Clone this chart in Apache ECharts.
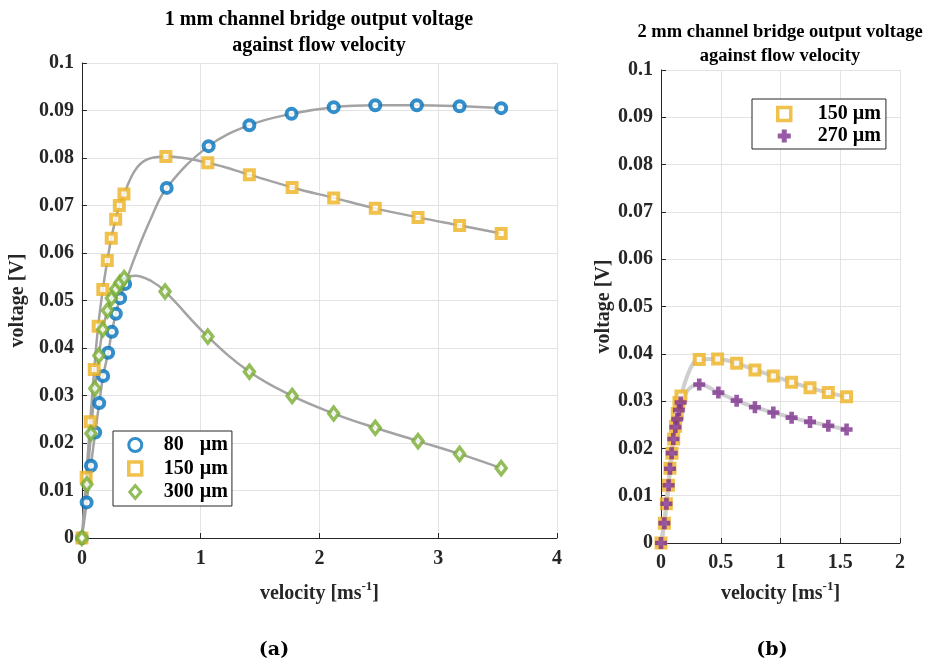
<!DOCTYPE html>
<html>
<head>
<meta charset="utf-8">
<script src="https://cdn.jsdelivr.net/npm/echarts@6/dist/echarts.min.js"></script>
<style>
html,body{margin:0;padding:0;background:#fff;}
#chart{width:946px;height:665px;}
</style>
</head>
<body>
<div id="chart"></div>
<script>
// ---------- data ----------
// Plot (a): 1 mm channel
const a80X  = [0, 0.040, 0.076, 0.112, 0.146, 0.179, 0.221, 0.252, 0.286, 0.322, 0.364, 0.714, 1.067, 1.41, 1.765, 2.12, 2.47, 2.82, 3.18, 3.53];
const a80Y  = [0, 0.0075, 0.0152, 0.0222, 0.0284, 0.0341, 0.0390, 0.0434, 0.0472, 0.0505, 0.0535, 0.0737, 0.0825, 0.0869, 0.0893, 0.0907, 0.0911, 0.0911, 0.0909, 0.0905];
const a150X = [0, 0.036, 0.070, 0.104, 0.137, 0.176, 0.214, 0.247, 0.284, 0.315, 0.354, 0.707, 1.06, 1.41, 1.77, 2.12, 2.47, 2.83, 3.18, 3.53];
const a150Y = [0, 0.0128, 0.0245, 0.0355, 0.0446, 0.0523, 0.0584, 0.0631, 0.0671, 0.0700, 0.0724, 0.0803, 0.0790, 0.0765, 0.0738, 0.0716, 0.0694, 0.0675, 0.0658, 0.0641];
const a300X = [0, 0.042, 0.076, 0.109, 0.143, 0.176, 0.215, 0.249, 0.286, 0.319, 0.356, 0.700, 1.06, 1.41, 1.77, 2.12, 2.47, 2.83, 3.18, 3.53];
const a300Y = [0, 0.0113, 0.0220, 0.0315, 0.0384, 0.0439, 0.0479, 0.0505, 0.0524, 0.0537, 0.0547, 0.0519, 0.0424, 0.0350, 0.0299, 0.0262, 0.0232, 0.0204, 0.0177, 0.0147];
// extra points (a)
const fit80ExX  = [0.45, 0.58];
const fit80ExY  = [0.0594, 0.0672];
const fit150ExX = [0.45, 0.55];
const fit150ExY = [0.0775, 0.0797];
const fit300ExX = [0.45, 0.59];
const fit300ExY = [0.0552, 0.0540];

// Plot (b): 2 mm channel
const b150X = [0, 0.028, 0.045, 0.062, 0.075, 0.092, 0.106, 0.122, 0.136, 0.150, 0.167, 0.32, 0.474, 0.633, 0.786, 0.94, 1.093, 1.247, 1.40, 1.553];
const b150Y = [0, 0.0042, 0.0083, 0.0122, 0.0158, 0.0190, 0.0220, 0.0247, 0.0274, 0.0297, 0.0311, 0.0388, 0.0389, 0.0380, 0.0366, 0.0353, 0.0340, 0.0328, 0.0318, 0.0309];
const b270X = [0, 0.028, 0.045, 0.064, 0.075, 0.089, 0.103, 0.120, 0.136, 0.150, 0.165, 0.32, 0.48, 0.633, 0.786, 0.94, 1.093, 1.247, 1.40, 1.553];
const b270Y = [0, 0.0042, 0.0083, 0.0122, 0.0157, 0.0190, 0.0220, 0.0245, 0.0262, 0.0281, 0.0297, 0.0335, 0.0318, 0.0301, 0.0287, 0.0276, 0.0265, 0.0256, 0.0248, 0.0240];
const fitB150ExX = [0.215, 0.27];
const fitB150ExY = [0.0350, 0.0380];
const fitB270ExX = [0.215, 0.26];
const fitB270ExY = [0.0320, 0.0331];

// labels
const legendNumA = ['80', '150', '300'];
const legendNumB = ['150', '270'];
const unitLabel = 'µm';
const titleA = '1 mm channel bridge output voltage\nagainst flow velocity';
const titleB = '2 mm channel bridge output voltage\nagainst flow velocity';
const xName = ['velocity [ms', '-1', ']'];
const yName = 'voltage [V]';
const subA = '(a)';
const subB = '(b)';

// ---------- helpers ----------
const FF = '"Liberation Serif", "Times New Roman", serif';
const C80 = '#0072BD', C150 = '#EDB120', C300 = '#77AC30', C270 = '#7E2F8E';
function pairs(xs, ys) { return xs.map((x, i) => [x, ys[i]]); }
function fit(xs, ys, ex, ey) { return pairs(xs, ys).concat(pairs(ex, ey)).sort((p, q) => p[0] - q[0]); }
const PLUS = 'path://M4,0H9V4H13V9H9V13H4V9H0V4H4Z';

const ST80 = { color: '#fff', borderColor: C80, borderWidth: 4 };
const ST150 = { color: '#fff', borderColor: C150, borderWidth: 4 };
const ST300 = { color: '#fff', borderColor: C300, borderWidth: 3.5 };
const ST270 = { color: C270, borderWidth: 0 };

function xAxisCfg(gi, max, interval, gap, margin) {
  return {
    type: 'value', gridIndex: gi, min: 0, max: max, interval: interval,
    name: '{a|' + xName[0] + '}{s|' + xName[1] + '}{a|' + xName[2] + '}',
    nameLocation: 'middle', nameGap: gap,
    nameTextStyle: {
      rich: {
        a: { fontFamily: FF, fontSize: 20, fontWeight: 'bold', color: '#262626', lineHeight: 24, verticalAlign: 'bottom' },
        s: { fontFamily: FF, fontSize: 13, fontWeight: 'bold', color: '#262626', lineHeight: 13, verticalAlign: 'top' }
      }
    },
    axisLine: { show: true, onZero: false, lineStyle: { color: '#262626', width: 1 } },
    axisTick: { show: true, inside: true, length: 5, lineStyle: { color: '#262626' } },
    axisLabel: { fontFamily: FF, fontSize: 20, fontWeight: 'bold', color: '#262626', margin: margin,
      formatter: v => String(Math.round(v * 10) / 10) },
    splitLine: { show: true, lineStyle: { color: '#e3e3e3', width: 1 } }
  };
}
function yAxisCfg(gi, gap, margin) {
  return {
    type: 'value', gridIndex: gi, min: 0, max: 0.1, interval: 0.01,
    name: yName, nameLocation: 'middle', nameGap: gap,
    nameTextStyle: { fontFamily: FF, fontSize: 20, fontWeight: 'bold', color: '#262626' },
    axisLine: { show: true, onZero: false, lineStyle: { color: '#262626', width: 1 } },
    axisTick: { show: true, inside: true, length: 5, lineStyle: { color: '#262626' } },
    axisLabel: { fontFamily: FF, fontSize: 20, fontWeight: 'bold', color: '#262626', margin: margin,
      formatter: v => String(Math.round(v * 100) / 100) },
    splitLine: { show: true, lineStyle: { color: '#e3e3e3', width: 1 } }
  };
}
function fitLine(name, data, xi, color, width) {
  return { name: name, type: 'line', xAxisIndex: xi, yAxisIndex: xi, data: data,
    smooth: 0.4, showSymbol: false, silent: true, z: 2,
    lineStyle: { color: color, width: width }, emphasis: { disabled: true } };
}
function marks(name, data, xi, symbol, size, style, z) {
  return { name: name, type: 'scatter', xAxisIndex: xi, yAxisIndex: xi, data: data,
    symbol: symbol, symbolSize: size, itemStyle: style, z: z, emphasis: { disabled: true } };
}

const nameMap = { A80: legendNumA[0], A150: legendNumA[1], A300: legendNumA[2], B150: legendNumB[0], B270: legendNumB[1] };
function legText(leftPad, w) {
  return { fontFamily: FF, fontSize: 20, fontWeight: 'bold', color: '#000', lineHeight: 20,
    rich: { n: { fontFamily: FF, fontSize: 20, fontWeight: 'bold', width: w, padding: [0, 0, 0, leftPad] },
            u: { fontFamily: FF, fontSize: 20, fontWeight: 'bold' } } };
}

const option = {
  animation: false,
  backgroundColor: '#ffffff',
  grid: [
    { left: 81, top: 63, width: 476, height: 475 },
    { left: 661, top: 70, width: 239, height: 473 }
  ],
  xAxis: [ xAxisCfg(0, 4, 1, 42, 11), xAxisCfg(1, 2, 0.5, 37, 10) ],
  yAxis: [ yAxisCfg(0, 42, 8), yAxisCfg(1, 39, 8) ],
  legend: [
    { data: [
        { name: 'A80', icon: 'circle', itemStyle: { color: '#fff', borderColor: C80, borderWidth: 3 } },
        { name: 'A150', icon: 'path://M1.5,1.5H11.5V11.5H1.5Z', itemStyle: { color: '#fff', borderColor: C150, borderWidth: 3.5 } },
        { name: 'A300', icon: 'path://M6.5,0L12,6.5L6.5,13L1,6.5Z', itemStyle: { color: '#fff', borderColor: C300, borderWidth: 3 } }
      ],
      orient: 'vertical', left: 113, top: 431,
      padding: [4, 4, 4, 14], itemGap: 3.5, itemWidth: 13, itemHeight: 13,
      backgroundColor: '#fff', borderColor: '#262626', borderWidth: 1, selectedMode: false,
      formatter: n => '{n|' + nameMap[n] + '}{u|' + unitLabel + '}',
      textStyle: legText(17, 36) },
    { data: [
        { name: 'B150', icon: 'path://M1.5,1.5H11.5V11.5H1.5Z', itemStyle: { color: '#fff', borderColor: C150, borderWidth: 3.5 } },
        { name: 'B270', icon: PLUS, itemStyle: { color: C270, borderWidth: 0 } }
      ],
      orient: 'vertical', left: 752, top: 99,
      padding: [5, 5, 3, 24], itemGap: 2, itemWidth: 13, itemHeight: 13,
      backgroundColor: '#fff', borderColor: '#262626', borderWidth: 1, selectedMode: false,
      formatter: n => '{n|' + nameMap[n] + '}{u|' + unitLabel + '}',
      textStyle: legText(22, 35) }
  ],
  graphic: [
    { type: 'text', x: 319, y: 7, silent: true,
      style: { text: titleA, fontFamily: FF, fontSize: 20, fontWeight: 'bold', fill: '#000', align: 'center', verticalAlign: 'top', lineHeight: 26 } },
    { type: 'text', x: 780, y: 20, silent: true,
      style: { text: titleB, fontFamily: FF, fontSize: 18.5, fontWeight: 'bold', fill: '#000', align: 'center', verticalAlign: 'top', lineHeight: 24 } },
    { type: 'text', x: 274, y: 650, silent: true,
      style: { text: subA, fontFamily: '"DejaVu Serif", serif', fontSize: 19, fontWeight: 'bold', fill: '#000', align: 'center', verticalAlign: 'middle' } },
    { type: 'text', x: 772, y: 650, silent: true,
      style: { text: subB, fontFamily: '"DejaVu Serif", serif', fontSize: 19, fontWeight: 'bold', fill: '#000', align: 'center', verticalAlign: 'middle' } }
  ],
  series: [
    fitLine('fA80', fit(a80X, a80Y, fit80ExX, fit80ExY), 0, '#a3a3a3', 2.5),
    fitLine('fA150', fit(a150X, a150Y, fit150ExX, fit150ExY), 0, '#a3a3a3', 2.5),
    fitLine('fA300', fit(a300X, a300Y, fit300ExX, fit300ExY), 0, '#a3a3a3', 2.5),
    fitLine('fB150', fit(b150X, b150Y, fitB150ExX, fitB150ExY), 1, '#cfcfcf', 4),
    fitLine('fB270', fit(b270X, b270Y, fitB270ExX, fitB270ExY), 1, '#cfcfcf', 4),
    marks('A80', pairs(a80X, a80Y), 0, 'circle', 10, ST80, 3),
    marks('A150', pairs(a150X, a150Y), 0, 'rect', 9, ST150, 4),
    marks('A300', pairs(a300X, a300Y), 0, 'diamond', [10, 13], ST300, 5),
    marks('B150', pairs(b150X, b150Y), 1, 'rect', 9, ST150, 4),
    marks('B270', pairs(b270X, b270Y), 1, PLUS, 12, ST270, 5)
  ]
};

const chart = echarts.init(document.getElementById('chart'), null, { renderer: 'canvas' });
chart.setOption(option);
</script>
</body>
</html>
